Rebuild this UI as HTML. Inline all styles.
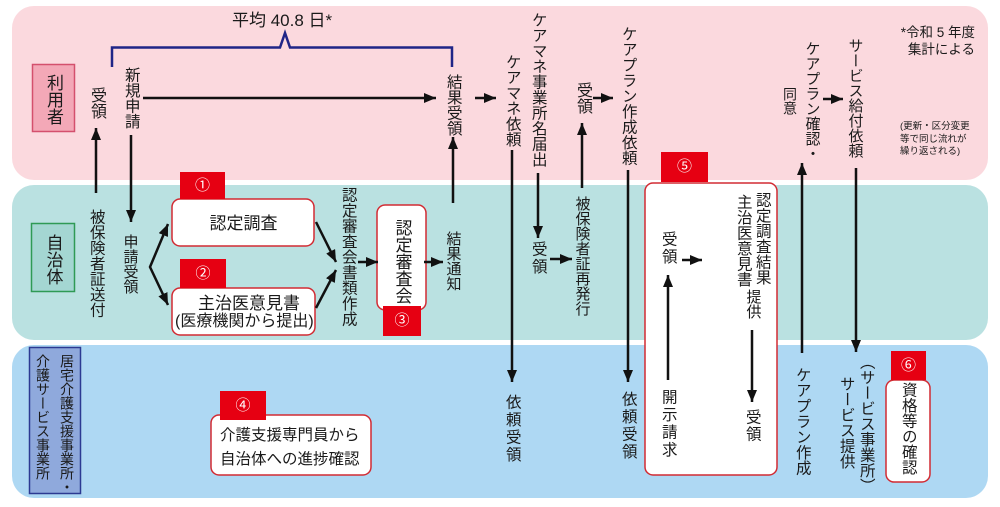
<!DOCTYPE html>
<html><head><meta charset="utf-8">
<style>
html,body{margin:0;padding:0;background:#fff;}
#c{position:relative;width:1000px;height:507px;overflow:hidden;font-family:"Liberation Sans","Noto Sans CJK JP",sans-serif;color:#1a1a1a;}
svg{position:absolute;left:0;top:0;}
.v{position:absolute;writing-mode:vertical-rl;white-space:nowrap;line-height:1;font-size:15.5px;}
.h{position:absolute;white-space:nowrap;}
.b{position:absolute;background:#e60012;color:#fff;font-size:15px;text-align:center;}
</style></head><body><div id="c">
<svg width="1000" height="507" viewBox="0 0 1000 507">
<defs>
<marker id="ah" markerUnits="userSpaceOnUse" markerWidth="12" markerHeight="10" refX="12" refY="5" orient="auto"><path d="M0,0L12,5L0,10z" fill="#111"/></marker>
<marker id="as" markerUnits="userSpaceOnUse" markerWidth="12" markerHeight="10" refX="12" refY="5" orient="auto-start-reverse"><path d="M0,0L12,5L0,10z" fill="#111"/></marker>
</defs>
<rect x="12" y="6" width="976" height="174" rx="22" fill="#fbd9de"/>
<rect x="12" y="185" width="976" height="155" rx="22" fill="#bae1e1"/>
<rect x="12" y="345" width="976" height="153" rx="22" fill="#aed8f3"/>
<rect x="32.5" y="64.5" width="42" height="67" fill="#f3a8b7" stroke="#d4506d" stroke-width="1.5"/>
<rect x="31.5" y="223.5" width="43" height="68" fill="#a4d6d2" stroke="#2f9a55" stroke-width="1.5"/>
<rect x="29.5" y="347.5" width="51" height="146" fill="#8fa9dc" stroke="#2c3a92" stroke-width="1.5"/>
<path d="M112,67V47.5H280L285,33L290,47.5H452V67" fill="none" stroke="#1f2587" stroke-width="2.5"/>
<g fill="#fff" stroke="#d22b33" stroke-width="1.5">
<rect x="172" y="199" width="142" height="47" rx="8"/>
<rect x="172" y="288" width="143" height="47" rx="8"/>
<rect x="377" y="205" width="49" height="105" rx="8"/>
<rect x="211" y="415" width="160" height="60" rx="8"/>
<rect x="645" y="183" width="132" height="292" rx="8"/>
<rect x="886" y="380" width="44" height="102" rx="8"/>
</g>
<g stroke="#111" stroke-width="2.5" fill="none">
<line x1="96" y1="193" x2="96" y2="128" marker-end="url(#ah)"/>
<line x1="131" y1="135" x2="131" y2="222" marker-end="url(#ah)"/>
<line x1="143" y1="98" x2="436" y2="98" marker-end="url(#ah)"/>
<line x1="453" y1="203" x2="453" y2="137" marker-end="url(#ah)"/>
<line x1="475" y1="98" x2="496" y2="98" marker-end="url(#ah)"/>
<line x1="512" y1="150" x2="512" y2="382" marker-end="url(#ah)"/>
<line x1="538" y1="173" x2="538" y2="238" marker-end="url(#ah)"/>
<line x1="550" y1="259" x2="572" y2="259" marker-end="url(#ah)"/>
<line x1="582" y1="188" x2="582" y2="123" marker-end="url(#ah)"/>
<line x1="593" y1="98" x2="613" y2="98" marker-end="url(#ah)"/>
<line x1="628" y1="170" x2="628" y2="382" marker-end="url(#ah)"/>
<line x1="682" y1="260" x2="702" y2="260" marker-end="url(#ah)"/>
<line x1="668" y1="380" x2="668" y2="275" marker-end="url(#ah)"/>
<line x1="752" y1="330" x2="752" y2="402" marker-end="url(#ah)"/>
<line x1="802" y1="353" x2="802" y2="163" marker-end="url(#ah)"/>
<line x1="823" y1="99" x2="843" y2="99" marker-end="url(#ah)"/>
<line x1="856" y1="168" x2="856" y2="352" marker-end="url(#ah)"/>
<polyline points="168,224 150,267 168,305" marker-start="url(#as)" marker-end="url(#ah)"/>
<line x1="316" y1="222" x2="336" y2="262" marker-end="url(#ah)"/>
<line x1="316" y1="308" x2="336" y2="270" marker-end="url(#ah)"/>
<line x1="358" y1="262" x2="378" y2="262" marker-end="url(#ah)"/>
<line x1="424" y1="262" x2="443" y2="262" marker-end="url(#ah)"/>
</g>
</svg>

<!-- badges -->
<div class="b" style="left:180px;top:172px;width:45px;height:27px;line-height:27px;">①</div>
<div class="b" style="left:180px;top:259px;width:46px;height:29px;line-height:29px;">②</div>
<div class="b" style="left:383px;top:306px;width:38px;height:30px;line-height:30px;">③</div>
<div class="b" style="left:220px;top:391px;width:46px;height:29px;line-height:29px;">④</div>
<div class="b" style="left:661px;top:152px;width:47px;height:30px;line-height:30px;">⑤</div>
<div class="b" style="left:891px;top:351px;width:35px;height:29px;line-height:29px;">⑥</div>

<!-- horizontal text -->
<div class="h" style="left:232px;top:11.5px;font-size:17px;line-height:17px;">平均 40.8 日*</div>
<div class="h" style="right:25px;top:26px;font-size:13.5px;line-height:13.5px;text-align:right;">*令和 5 年度</div>
<div class="h" style="right:25px;top:43px;font-size:13.5px;line-height:13.5px;text-align:right;">集計による</div>
<div class="h" style="left:900px;top:121px;font-size:9.5px;line-height:12.5px;">(更新・区分変更<br>等で同じ流れが<br>繰り返される)</div>
<div class="h" style="left:172px;width:143px;text-align:center;top:214.5px;font-size:17px;line-height:17px;">認定調査</div>
<div class="h" style="left:198px;top:294.5px;font-size:17px;line-height:17px;">主治医意見書</div>
<div class="h" style="left:175px;top:314px;font-size:16px;line-height:16px;">(医療機関から提出)</div>
<div class="h" style="left:220px;top:428px;font-size:15.5px;line-height:15.5px;">介護支援専門員から</div>
<div class="h" style="left:220px;top:452px;font-size:15.5px;line-height:15.5px;">自治体への進捗確認</div>

<!-- vertical text -->
<div class="v" style="left:45px;top:74px;font-size:17px;">利用者</div>
<div class="v" style="left:44.5px;top:234px;font-size:17px;">自治体</div>
<div class="v" style="left:60px;top:354px;font-size:14px;">居宅介護支援事業所・</div>
<div class="v" style="left:36px;top:354px;font-size:14px;">介護サービス事業所</div>

<div class="v" style="left:88px;top:87px;font-size:16px;">受領</div>
<div class="v" style="left:123.25px;top:67px;">新規申請</div>
<div class="v" style="left:445.25px;top:74px;">結果受領</div>
<div class="v" style="left:504.25px;top:54px;">ケアマネ依頼</div>
<div class="v" style="left:530.25px;top:12px;">ケアマネ事業所名届出</div>
<div class="v" style="left:574px;top:82px;font-size:16px;">受領</div>
<div class="v" style="left:620.25px;top:26px;">ケアプラン作成依頼</div>
<div class="v" style="left:804.5px;top:41px;font-size:15px;">ケアプラン確認・</div>
<div class="v" style="left:783px;top:87px;font-size:14px;">同意</div>
<div class="v" style="left:847.5px;top:38px;font-size:15px;">サービス給付依頼</div>

<div class="v" style="left:88.25px;top:209px;">被保険者証送付</div>
<div class="v" style="left:122.5px;top:234px;font-size:15px;">申請受領</div>
<div class="v" style="left:340.25px;top:187px;">認定審査会書類作成</div>
<div class="v" style="left:393.5px;top:219px;font-size:17px;">認定審査会</div>
<div class="v" style="left:445.5px;top:231px;font-size:15px;">結果通知</div>
<div class="v" style="left:530.25px;top:241px;letter-spacing:2px;">受領</div>
<div class="v" style="left:574.5px;top:196px;font-size:15px;">被保険者証再発行</div>
<div class="v" style="left:660.25px;top:231px;letter-spacing:2px;">受領</div>
<div class="v" style="left:754.25px;top:192px;">認定調査結果</div>
<div class="v" style="left:735.25px;top:194px;">主治医意見書</div>
<div class="v" style="left:745.5px;top:289px;font-size:15px;">提供</div>
<div class="v" style="left:660.25px;top:389px;letter-spacing:2px;">開示請求</div>
<div class="v" style="left:744.25px;top:409px;letter-spacing:1.5px;">受領</div>

<div class="v" style="left:504.25px;top:394px;letter-spacing:2px;">依頼受領</div>
<div class="v" style="left:620.25px;top:391px;letter-spacing:2px;">依頼受領</div>
<div class="v" style="left:794.25px;top:367px;">ケアプラン作成</div>
<div class="v" style="left:858.25px;top:354px;">（サービス事業所）</div>
<div class="v" style="left:838.25px;top:376px;">サービス提供</div>
<div class="v" style="left:900.25px;top:382px;">資格等の確認</div>
</div></body></html>
